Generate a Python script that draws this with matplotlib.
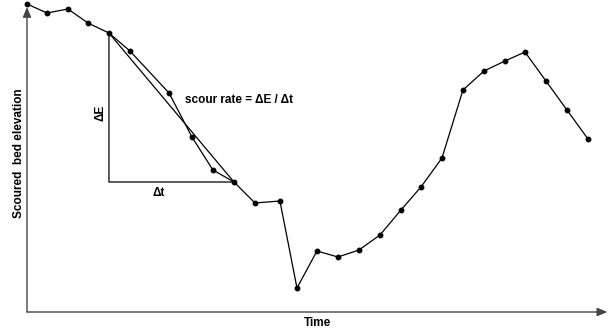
import matplotlib
matplotlib.use("Agg")
import matplotlib.pyplot as plt

# Time (arbitrary units) and scoured bed elevation (arbitrary units)
time = [0, 0.96, 1.97, 2.93, 3.94, 4.95, 6.83, 7.93, 8.94, 9.95, 10.96,
        12.16, 12.98, 13.94, 14.95, 15.96, 16.97, 17.98, 18.94, 19.95,
        20.96, 21.97, 22.98, 23.94, 24.95, 25.96, 26.97]
elevation = [30.8, 29.9, 30.3, 28.9, 27.9, 26.1, 21.9, 17.5, 14.2, 13.0, 10.9,
             11.1, 2.4, 6.1, 5.5, 6.2, 7.7, 10.2, 12.5, 15.4,
             22.2, 24.1, 25.1, 26.0, 23.1, 20.2, 17.3]

# slope triangle between these two readings
i0, i1 = 4, 9

plt.rcParams['font.family'] = ['Liberation Sans', 'DejaVu Sans']
plt.rcParams['font.weight'] = 'bold'

fig = plt.figure(figsize=(6.09, 3.33), dpi=100)
ax = fig.add_axes([27/609, 21/333, 582/609, 312/333])
ax.set_xlim(0, 582/20.8)
ax.set_ylim(0, 31.2)
ax.axis('off')

# axes with arrow heads
ax.annotate('', xy=(27.9, 0), xytext=(0, 0), annotation_clip=False,
            arrowprops=dict(arrowstyle='-|>,head_length=0.6,head_width=0.25',
                            color='#444444', lw=1, shrinkA=0, shrinkB=0))
ax.annotate('', xy=(0, 30.5), xytext=(0, 0), annotation_clip=False,
            arrowprops=dict(arrowstyle='-|>,head_length=0.6,head_width=0.25',
                            color='#444444', lw=1, shrinkA=0, shrinkB=0))

# data
ax.plot(time, elevation, color='black', lw=0.9, marker='o', markersize=3.2,
        clip_on=False)

# triangle
t0, e0 = time[i0], elevation[i0]
t1, e1 = time[i1], elevation[i1]
ax.plot([t0, t0, t1, t0], [e0, e1, e1, e0], color='black', lw=0.9)

ax.text(t0 - 0.4, (e0 + e1) / 2 - 0.55, '\u0394E', rotation=90, ha='center',
        va='center', fontsize=8.5, fontweight='bold')
ax.text((t0 + t1) / 2 - 0.6, e1 - 1.1, '\u0394t', ha='center', va='center',
        fontsize=8.5, fontweight='bold')
ax.text(7.6, 21.2, 'scour rate = \u0394E / \u0394t', ha='left', va='center',
        fontsize=8.5, fontweight='bold')

fig.text(19/609, 1 - 153/333, 'Scoured  bed elevation', rotation=90,
         ha='center', va='center', fontsize=8.5, fontweight='bold')
fig.text(318/609, 1 - 323/333, 'Time', ha='center', va='center',
         fontsize=8.5, fontweight='bold')

plt.savefig("out.png", dpi=100)
